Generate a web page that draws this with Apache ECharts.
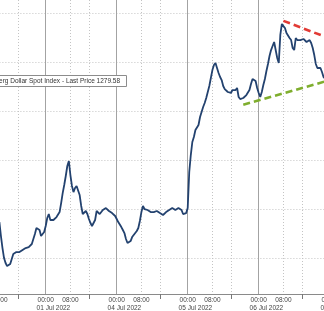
<!DOCTYPE html>
<html>
<head>
<meta charset="utf-8">
<script src="https://cdn.jsdelivr.net/npm/echarts@6/dist/echarts.min.js"></script>
<style>
html,body{margin:0;padding:0;background:#fff;}
#chart{width:324px;height:311px;}
</style>
</head>
<body>
<div id="chart"></div>
<script>
// Trading days shown and half-hourly bars per session (22:00-22:59 absent)
const days = ['30 Jun 2022', '01 Jul 2022', '04 Jul 2022', '05 Jul 2022', '06 Jul 2022', '07 Jul 2022'];
const sessionHours = [];
['00','01','02','03','04','05','06','07','08','09','10','11','12','13','14','15','16','17','18','19','20','21','23']
  .forEach(h => { sessionHours.push(h + ':00', h + ':30'); });
const firstBar = '30 Jun 2022 08:00';
const lastBar = '07 Jul 2022 03:00';

// Hour labels and group separators on the time axis
const hourLabels = ['00:00', '08:00'];
const solidGridHour = '00:00';
const dottedGridHours = ['08:00', '14:00'];
const separatorHour = '14:00';
const dateLabelHour = '02:30';

// Bloomberg Dollar Spot Index, half-hourly bars from 30 Jun 08:00
const price = [
  1263.67, 1262.24, 1261.02, 1260.00, 1259.49, 1259.18, 1259.08, 1259.39, 1259.90, 1260.41,
  1260.41, 1260.61, 1260.61, 1260.61, 1260.71, 1260.82, 1260.92, 1261.02, 1261.02, 1261.12,
  1261.22, 1261.43, 1261.63, 1262.45, 1263.06, 1263.16, 1262.86, 1262.24, 1262.14, 1262.65,
  1263.27, 1264.08, 1264.49, 1263.88, 1264.08, 1263.88, 1263.78, 1264.18, 1264.08, 1264.69,
  1265.61, 1266.63, 1267.45, 1268.37, 1269.39, 1269.90, 1268.47, 1267.35, 1266.73, 1267.14,
  1267.35, 1267.55, 1266.43, 1265.31, 1264.49, 1264.59, 1264.80, 1264.49, 1263.98, 1263.57,
  1263.27, 1263.16, 1263.88, 1264.80, 1264.69, 1264.49, 1264.69, 1264.90, 1265.00, 1265.10,
  1265.00, 1264.80, 1264.69, 1264.59, 1264.59, 1264.29, 1263.98, 1263.67, 1263.47, 1263.16,
  1262.86, 1262.55, 1261.94, 1261.53, 1261.43, 1261.73, 1262.14, 1262.35, 1262.55, 1262.76,
  1263.06, 1263.78, 1264.69, 1265.31, 1265.00, 1264.90, 1264.90, 1264.90, 1264.69, 1264.69,
  1264.69, 1264.80, 1264.80, 1264.69, 1264.59, 1264.49, 1264.39, 1264.59, 1264.69, 1264.80,
  1264.90, 1265.00, 1265.10, 1265.00, 1264.90, 1265.00, 1265.10, 1265.00, 1264.90, 1264.49,
  1264.29, 1264.59, 1265.10, 1268.78, 1270.51, 1271.84, 1272.35, 1273.06, 1273.16, 1273.57,
  1274.39, 1274.29, 1275.41, 1275.82, 1276.33, 1276.94, 1277.55, 1278.37, 1279.18, 1279.69,
  1279.90, 1279.39, 1278.88, 1278.47, 1278.16, 1277.55, 1277.24, 1277.24, 1276.94, 1276.84,
  1276.84, 1277.14, 1277.04, 1277.14, 1277.35, 1276.43, 1276.22, 1276.22, 1276.33, 1276.43,
  1276.63, 1276.73, 1277.14, 1277.76, 1278.27, 1278.47, 1278.06, 1277.35, 1276.84, 1276.43,
  1276.94, 1277.65, 1278.27, 1279.08, 1279.80, 1280.61, 1281.22, 1281.63, 1282.04, 1281.84,
  1280.41, 1279.90, 1282.76, 1283.88, 1284.08, 1283.47, 1282.96, 1282.96, 1282.45, 1282.24,
  1281.43, 1281.22, 1282.45, 1282.24, 1282.04, 1282.24, 1282.04, 1282.35, 1282.24, 1282.04,
  1282.24, 1282.24, 1281.94, 1281.43, 1280.71, 1279.80, 1279.39, 1279.39, 1279.39, 1278.98,
  1278.47, 1278.27, 1278.16
];

// Hand-drawn trend lines
const redTrend = [['06 Jul 2022 08:00', 1284.2], ['07 Jul 2022 00:00', 1282.4]];
const greenTrend = [['05 Jul 2022 18:00', 1275.65], ['07 Jul 2022 00:00', 1278.15]];

const seriesName = 'Bloomberg Dollar Spot Index - Last Price 1279.58';

// y axis range (no labels visible in the crop)
const yMin = 1256.33, yMax = 1290, yStep = 5;

// build category list
const cats = [];
let started = false, done = false;
for (const d of days) {
  for (const h of sessionHours) {
    const c = d + ' ' + h;
    if (c === firstBar) started = true;
    if (started && !done) cats.push(c);
    if (c === lastBar) done = true;
  }
}
const hourOf = v => v.slice(-5);
const dateOf = v => v.slice(0, 11);

const barW = 71 / 46;
const font = 'Liberation Sans, Arial, sans-serif';
const chart = echarts.init(document.getElementById('chart'), null, {renderer: 'canvas'});
chart.setOption({
  animation: false,
  backgroundColor: '#ffffff',
  title: {
    text: seriesName,
    left: -26, top: 75,
    padding: [2, 7, 2, 3],
    borderColor: '#8c8c8c', borderWidth: 1,
    backgroundColor: '#ffffff',
    textStyle: {fontSize: 6.5, fontWeight: 'normal', color: '#333', fontFamily: font, lineHeight: 8}
  },
  grid: {
    left: -0.6, right: 324 - (-0.6 + barW * (cats.length - 1)), top: -36, bottom: 17,
    containLabel: false, outerBoundsMode: 'none'
  },
  xAxis: [
    {
      type: 'category', data: cats, boundaryGap: false, position: 'bottom',
      axisLine: {show: true, lineStyle: {color: '#8a8a8a', width: 1}},
      axisTick: {show: true, length: 5, interval: (i, v) => hourOf(v) === separatorHour, lineStyle: {color: '#777'}},
      axisLabel: {
        show: true, interval: (i, v) => hourLabels.includes(hourOf(v)), formatter: v => hourOf(v),
        fontSize: 6.5, margin: 3, color: '#444', fontFamily: font, hideOverlap: false
      },
      splitLine: {show: true, interval: (i, v) => hourOf(v) === solidGridHour, lineStyle: {color: '#a3a3a3', width: 1}}
    },
    {
      type: 'category', data: cats, boundaryGap: false, position: 'bottom',
      axisLine: {show: false}, axisTick: {show: false}, axisLabel: {show: false},
      splitLine: {show: true, interval: (i, v) => dottedGridHours.includes(hourOf(v)), lineStyle: {color: '#c4c4c4', width: 1, type: [1, 2]}}
    },
    {
      type: 'category', data: cats, boundaryGap: false, position: 'bottom',
      axisLine: {show: false}, axisTick: {show: false}, splitLine: {show: false},
      axisLabel: {
        show: true, interval: (i, v) => hourOf(v) === dateLabelHour, formatter: v => dateOf(v),
        fontSize: 6.5, margin: 11, color: '#444', fontFamily: font, hideOverlap: false
      }
    }
  ],
  yAxis: {
    type: 'value', min: yMin, max: yMax, minInterval: yStep, maxInterval: yStep,
    axisLine: {show: false}, axisTick: {show: false}, axisLabel: {show: false},
    splitLine: {show: true, lineStyle: {color: '#c4c4c4', width: 1, type: [1, 2]}}
  },
  series: [
    {
      name: seriesName, type: 'line', xAxisIndex: 0, data: price, showSymbol: false,
      lineStyle: {color: '#23426f', width: 1.8}, z: 3
    },
    {
      name: 'red trend', type: 'line', xAxisIndex: 0, data: redTrend, showSymbol: false,
      lineStyle: {color: '#e23b35', width: 2.6, type: [7, 4]}, z: 4
    },
    {
      name: 'green trend', type: 'line', xAxisIndex: 0, data: greenTrend, showSymbol: false,
      lineStyle: {color: '#7fae2e', width: 2.6, type: [7, 4]}, z: 4
    }
  ]
});
</script>
</body>
</html>
